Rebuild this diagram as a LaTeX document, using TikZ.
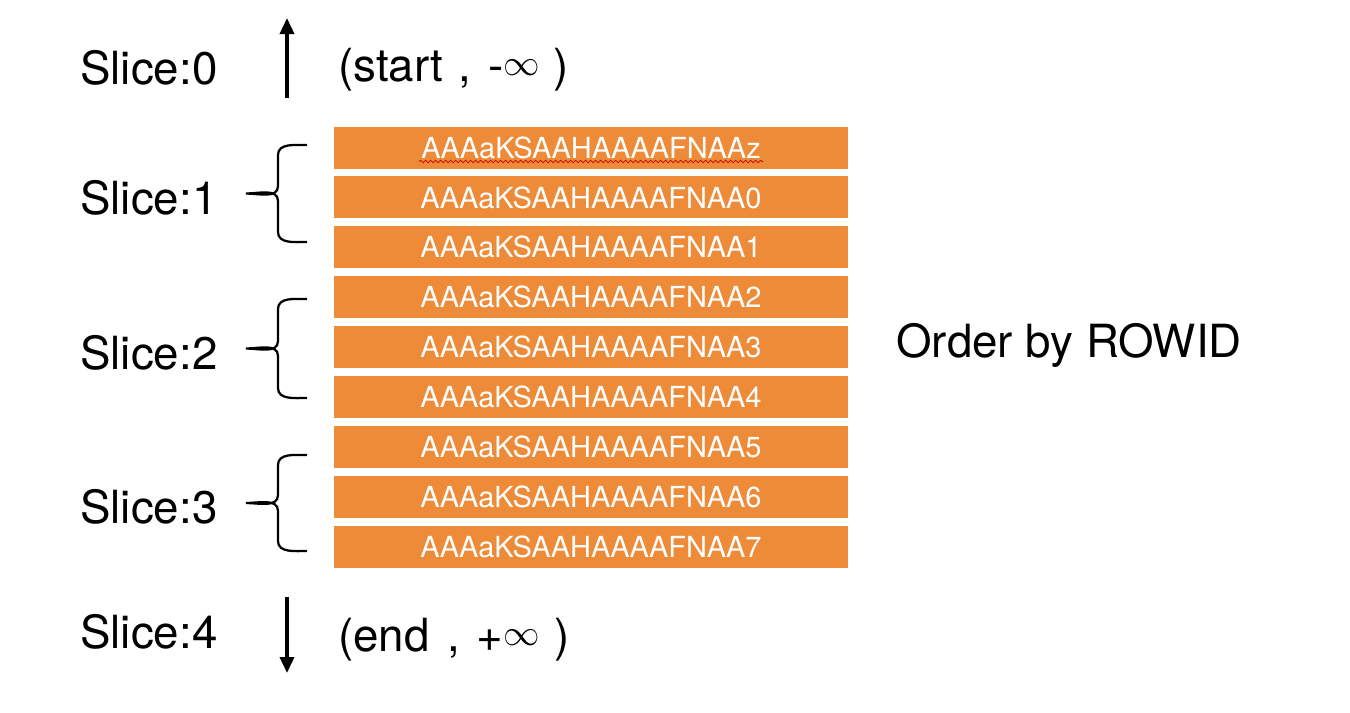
\documentclass[tikz,border=0pt]{standalone}
\usepackage{fontspec}
\setmainfont{TeX Gyre Heros}
\usepackage{xcolor}
\usepackage{tikz}
\usetikzlibrary{arrows.meta,positioning,decorations.pathmorphing}

\definecolor{rowfill}{RGB}{238,139,56}
\newcommand{\infsign}{\raisebox{1.2mm}{\fontsize{20}{22}\selectfont$\infty$}}

\begin{document}
\begin{tikzpicture}[
x=0.2mm, y=-0.2mm,
rowbar/.style={fill=rowfill, inner sep=0pt, minimum width=102.8mm, minimum height=8.4mm, text=white, font=\fontsize{16.5}{19}\selectfont},
bigtext/.style={inner sep=0pt, anchor=base west, font=\fontsize{26}{30}\selectfont},
bracestroke/.style={line width=0.45mm},
bound/.style={line width=0.7mm, -{Triangle[length=3.2mm,width=2.8mm]}},
squiggle/.style={draw=red!80!black, line width=0.15mm, decorate, decoration={snake, amplitude=0.25mm, segment length=1mm}}
]
\useasboundingbox (0,0) rectangle (1350,712);

% Rows
\node[rowbar] (r0) at (591,147.5) {AAAaKSAAHAAAAFNAAz};
\node[rowbar, below=1.45mm of r0] (r1) {AAAaKSAAHAAAAFNAA0};
\node[rowbar, below=1.45mm of r1] (r2) {AAAaKSAAHAAAAFNAA1};
\node[rowbar, below=1.45mm of r2] (r3) {AAAaKSAAHAAAAFNAA2};
\node[rowbar, below=1.45mm of r3] (r4) {AAAaKSAAHAAAAFNAA3};
\node[rowbar, below=1.45mm of r4] (r5) {AAAaKSAAHAAAAFNAA4};
\node[rowbar, below=1.45mm of r5] (r6) {AAAaKSAAHAAAAFNAA5};
\node[rowbar, below=1.45mm of r6] (r7) {AAAaKSAAHAAAAFNAA6};
\node[rowbar, below=1.45mm of r7] (r8) {AAAaKSAAHAAAAFNAA7};
\draw[squiggle] ([shift={(-172,14)}]r0.center) -- ([shift={(172,14)}]r0.center);

% Slice labels
\node[bigtext] (s0) at (80,84) {Slice:0};
\node[bigtext] (s1) at (80,214) {Slice:1};
\node[bigtext] (s2) at (80,369) {Slice:2};
\node[bigtext] (s3) at (80,523) {Slice:3};
\node[bigtext] (s4) at (80,648) {Slice:4};

% Bounds
\node[bigtext] (lo) at (338,81) {(start\hspace{3mm},\hspace{3.4mm}-\infsign\hspace{2.8mm})};
\node[bigtext] (hi) at (338,651) {(end\hspace{3.6mm},\hspace{3.2mm}+\infsign\hspace{3mm})};
\coordinate (lofrom) at (287,98);
\coordinate (loto) at (287,18);
\coordinate (hifrom) at (287,597);
\coordinate (hito) at (287,673);
\draw[bound] (lofrom) -- (loto);
\draw[bound] (hifrom) -- (hito);

% Braces
\draw[bracestroke] (307,145) to[out=180,in=90] (278,155) -- (278,186) to[out=-90,in=0] (246,193.5) to[out=0,in=90] (278,201) -- (278,232) to[out=-90,in=180] (307,242);
\draw[bracestroke] (307,299) to[out=180,in=90] (278,309) -- (278,341) to[out=-90,in=0] (246,348.5) to[out=0,in=90] (278,356) -- (278,388) to[out=-90,in=180] (307,398);
\draw[bracestroke] (307,455) to[out=180,in=90] (278,465) -- (278,495) to[out=-90,in=0] (246,503) to[out=0,in=90] (278,511) -- (278,541) to[out=-90,in=180] (307,551);

\node[bigtext] (order) at (896,357) {Order by ROWID};
\end{tikzpicture}
\end{document}
